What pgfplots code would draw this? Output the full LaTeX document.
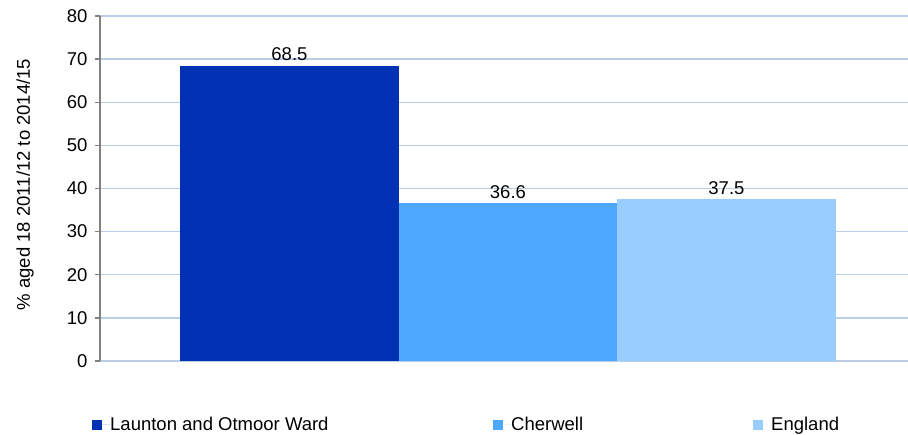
\documentclass[border=0pt]{standalone}
\usepackage{pgfplots}
\pgfplotsset{compat=1.18}
\usepackage{fontspec}
\setmainfont{Liberation Sans}
\definecolor{c1}{HTML}{0331B3}
\definecolor{c2}{HTML}{4FA8FF}
\definecolor{c3}{HTML}{99CCFF}
\definecolor{gridc}{HTML}{B9CDE5}
\begin{document}
\begin{tikzpicture}
\begin{axis}[
  scale only axis,
  width=808pt, height=345pt,
  xmin=0.133, xmax=3.831,
  ymin=0, ymax=80,
  ytick={0,10,...,80},
  xtick=\empty,
  axis x line=bottom, axis y line=left,
  axis line style={-},
  x axis line style={draw=none},
  y axis line style={draw=gray, line width=1.3pt},
  ymajorgrids,
  grid style={draw=gridc, line width=1.3pt},
  tick align=outside,
  major tick length=5pt,
  ytick style={draw=gray, line width=1.3pt},
  /pgf/number format/assume math mode=true,
  tick label style={font=\fontsize{18.5}{22}\selectfont},
  yticklabel style={xshift=-4pt},
  ylabel={\% aged 18 2011/12 to 2014/15},
  ylabel style={font=\fontsize{18.5}{22}\selectfont, at={([xshift=-75pt,yshift=4pt]axis description cs:0,0.5)}, anchor=center},
  ybar, bar shift=0pt, bar width=1,
  nodes near coords,
  every node near coord/.append style={font=\fontsize{18.5}{22}\selectfont, color=black, yshift=1pt},
  legend columns=3,
  legend style={draw=none, fill=none, at={(rel axis cs:0,0)}, anchor=north west,
    xshift=-11pt, yshift=-54pt, font=\fontsize{18.5}{22}\selectfont,
    /tikz/every even column/.append style={column sep=0pt},
    nodes={inner sep=0pt}},
  legend image code/.code={\fill[#1] (0pt,-5pt) rectangle (10pt,5pt); \path (0pt,0pt) -- (18pt,0pt);},
]
\addplot[draw=none, fill=c1] coordinates {(1,68.5)};
\addlegendentry{\makebox[383pt][l]{Launton and Otmoor Ward}}
\addplot[draw=none, fill=c2] coordinates {(2,36.6)};
\addlegendentry{\makebox[242pt][l]{Cherwell}}
\addplot[draw=none, fill=c3] coordinates {(3,37.5)};
\addlegendentry{England}
\end{axis}
\pgfresetboundingbox
\path (current axis.south west) ++(-100pt,-74pt) rectangle ++(908pt,435pt);
\end{tikzpicture}
\end{document}
